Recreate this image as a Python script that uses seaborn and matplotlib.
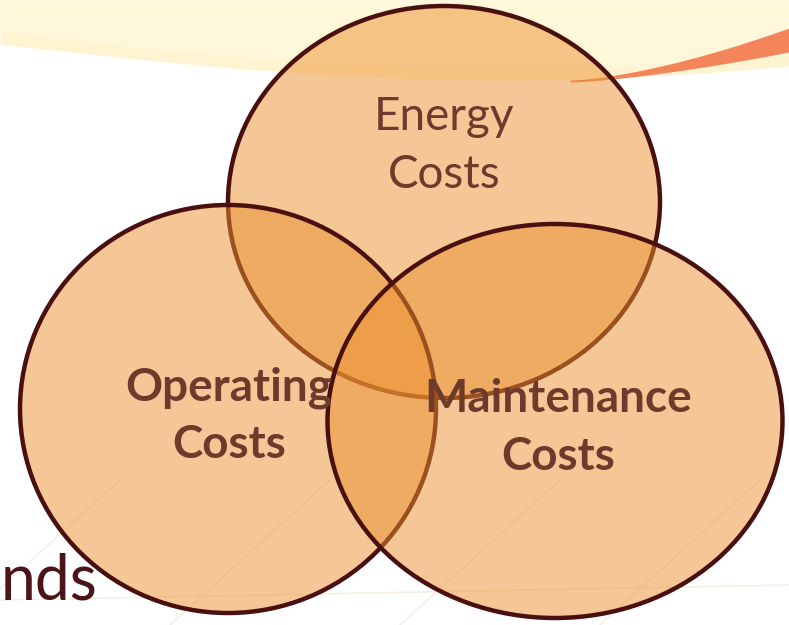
import numpy as np
import matplotlib.pyplot as plt
import seaborn as sns
from matplotlib.patches import Ellipse

# circle sets (pixel space of the slide)
set_names = ["Energy\nCosts", "Operating\nCosts", "Maintenance\nCosts"]
center_x = [444, 228, 555]
center_y = [202, 409, 421]
width_px = [432, 416, 455]
height_px = [392, 408, 394]
label_x = [444, 229, 558]
label_y = [146, 416, 428]
label_bold = [False, True, True]

sns.set_theme(style="white")
plt.rcParams['font.family'] = ['Lato', 'DejaVu Sans']

fig = plt.figure(figsize=(7.89, 6.25), dpi=100)
ax = fig.add_axes([0, 0, 1, 1])
ax.set_xlim(0, 789)
ax.set_ylim(625, 0)
ax.axis("off")

# slide background: cream swoosh on top, orange streak at right
xs = np.linspace(0, 789, 200)
swoosh = 44 + 36 * np.sin(np.pi * xs / 1000)
ax.fill_between(xs, 0, swoosh, color="#fff4d2", zorder=0, lw=0)
ax.fill_between(xs, 0, swoosh - 12, color="#fff7da", zorder=0, lw=0)
xo = np.linspace(570, 789, 100)
t = (xo - 570) / 219
ax.fill_between(xo, 80 - 52 * t**1.5, 82 - 30 * t**1.4, color="#f4855a",
                zorder=0, lw=0)

# faint floor tiles at the bottom
for x0 in [120, 330, 560, 760]:
    ax.plot([x0, x0 - 160], [480, 625], color="#f6f0e4", lw=1.2, zorder=0)
ax.plot([0, 789], [600, 585], color="#f6f0e4", lw=1.2, zorder=0)

for i in range(3):
    e = Ellipse((center_x[i], center_y[i]), width_px[i], height_px[i],
                facecolor="#ed9130", alpha=0.5, edgecolor="none", zorder=2 + i)
    ax.add_patch(e)
    edge = Ellipse((center_x[i], center_y[i]), width_px[i], height_px[i],
                   facecolor="none", edgecolor="#4a1010", lw=3.2, zorder=2 + i)
    ax.add_patch(edge)

ax.text(1, 600, "nds", fontsize=45, color="#4a1418", va="baseline",
        ha="left", zorder=1)

for i in range(3):
    ax.text(label_x[i], label_y[i], set_names[i], fontsize=33,
            color="#6e3a2b", ha="center", va="center", linespacing=1.45,
            fontweight="bold" if label_bold[i] else "normal", zorder=10)

fig.savefig("out.png", dpi=100)
